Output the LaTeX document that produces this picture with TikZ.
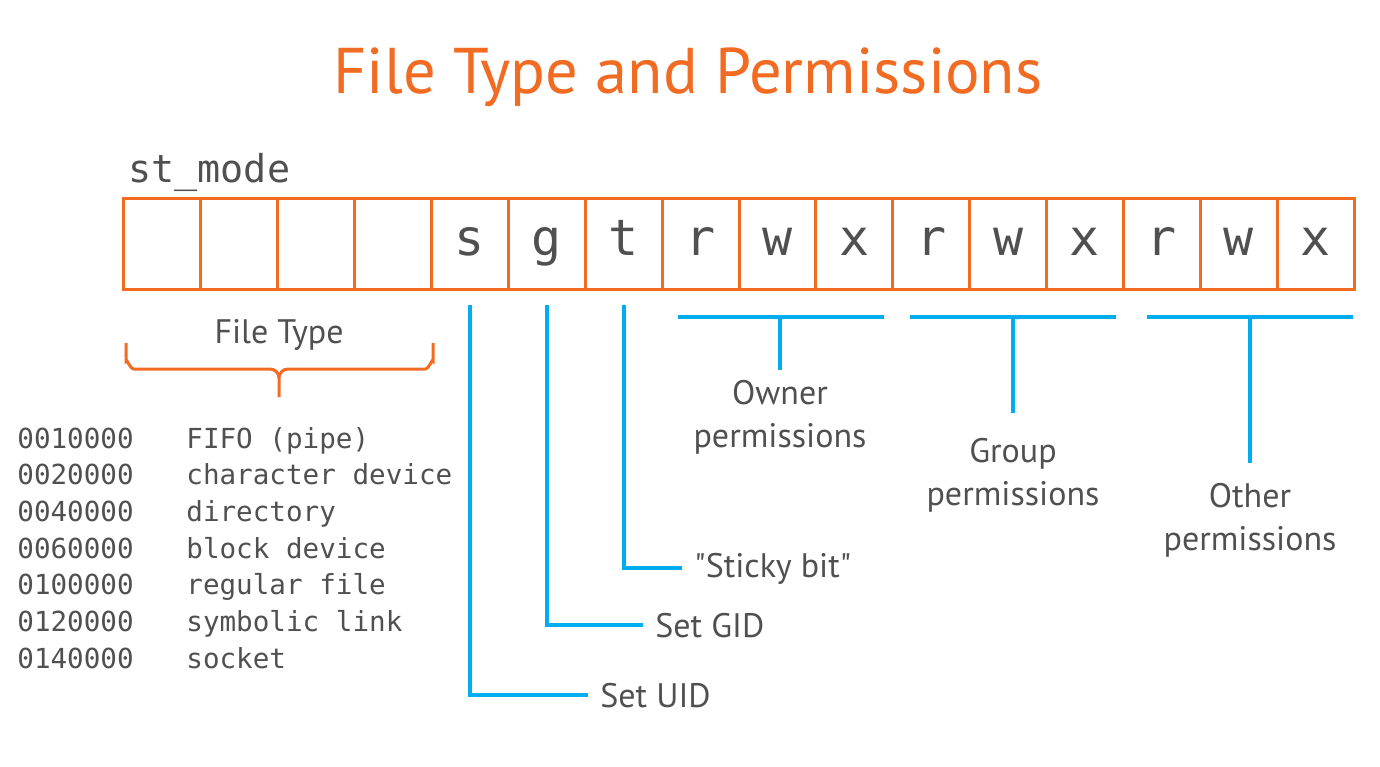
\documentclass[tikz,border=0pt]{standalone}
\usepackage{fontspec}
\setmainfont{PT Sans}[Ligatures=TeXOff]
\setmonofont{DejaVu Sans Mono}[Ligatures=TeXOff]
\definecolor{fborange}{RGB}{242,107,35}
\definecolor{fbblue}{RGB}{0,174,239}
\definecolor{fbgray}{RGB}{80,80,80}
\tikzset{cell/.style={draw=fborange, line width=1.5pt, minimum width=38.44pt, minimum height=45.5pt, inner sep=0pt, text height=15pt, text depth=3.5pt, text=fbgray, font=\ttfamily\fontsize{25}{25}\selectfont}}
\tikzset{wire/.style={draw=fbblue, line width=2pt}}
\tikzset{lbl/.style={text=fbgray, inner sep=0pt, font=\fontsize{17}{21.5}\selectfont}}
\tikzset{code/.style={text=fbgray, inner sep=0pt, anchor=base west, font=\ttfamily\fontsize{13.8}{13.8}\selectfont}}

\begin{document}
\begin{tikzpicture}[x=0.5pt, y=-0.5pt]
  \useasboundingbox (0,0) rectangle (1380,766);

  \node[text=fborange, inner sep=0pt, anchor=base, font=\fontsize{32.3}{32.3}\selectfont] (title) at (688,93) {File Type and Permissions};
  \node[text=fbgray, inner sep=0pt, anchor=base west, font=\ttfamily\fontsize{19.2}{19.2}\selectfont] (stmode) at (128,182) {st\textunderscore mode};

  % the sixteen bits
  \foreach \i/\t in {1/{},2/{},3/{},4/{},5/s,6/g,7/t,8/r,9/w,10/x,11/r,12/w,13/x,14/r,15/w,16/x} {
    \node[cell] (c\i) at ({124+(\i-0.5)*76.875},243.5) {\t};
  }

  % file type
  \node[lbl, anchor=base] (ftype) at (279,343) {File Type};
  \draw[draw=fborange, line width=1.5pt] (126,343) -- (126,361) to[out=90,in=180] (134,369) -- (270,369) to[out=0,in=90] (279,378) -- (279,397)
    (279,378) to[out=90,in=180] (288,369) -- (425,369) to[out=0,in=90] (433,361) -- (433,343);
  \foreach \k/\code/\name in {0/0010000/FIFO (pipe),1/0020000/character device,2/0040000/directory,3/0060000/block device,4/0100000/regular file,5/0120000/symbolic link,6/0140000/socket} {
    \node[code] (oct\k) at (17,{448+\k*36.67}) {\code};
    \node[code] (typ\k) at (186,{448+\k*36.67}) {\name};
  }

  % special bits
  \node[lbl, anchor=base west] (uid) at (600,707) {Set UID};
  \node[lbl, anchor=base west] (gid) at (655,637) {Set GID};
  \node[lbl, anchor=base west] (sticky) at (694,577) {"Sticky bit"};
  \draw[wire, shorten >=6pt] ([yshift=-7pt]c5.south) |- (uid.west);
  \draw[wire, shorten >=6pt] ([yshift=-7pt]c6.south) |- (gid.west);
  \draw[wire, shorten >=6pt] ([yshift=-7pt]c7.south) |- (sticky.west);

  % permission groups
  \foreach \n/\l/\r/\m/\e/\ty/\tx in {own/678/884/780/370/447/Owner,grp/910/1116/1013/413/505/Group,oth/1147/1353/1250/463/550/Other} {
    \coordinate (\n-l) at (\l,317);
    \coordinate (\n-r) at (\r,317);
    \coordinate (\n-m) at (\m,317);
    \coordinate (\n-e) at (\m,\e);
    \draw[wire] (\n-l) -- (\n-r);
    \draw[wire] (\n-m) -- (\n-e);
    \node[lbl, align=center, anchor=base] (\n-t) at (\m,\ty) {\tx\\permissions};
  }
\end{tikzpicture}
\end{document}
